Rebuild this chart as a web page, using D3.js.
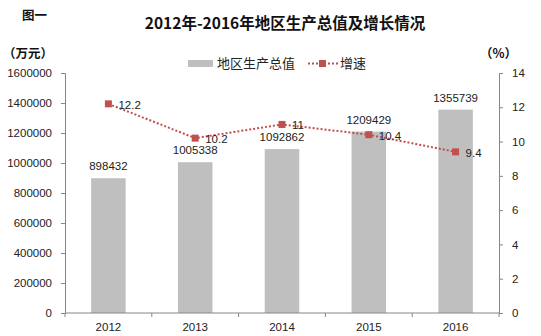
<!DOCTYPE html>
<html><head><meta charset="utf-8">
<script src="https://cdn.jsdelivr.net/npm/d3@7"></script>
<style>
body{margin:0;background:#fff;}
text{font-family:"Liberation Sans",Arial,"Noto Sans CJK SC",sans-serif;}
.cjk{font-family:"Noto Sans CJK SC",sans-serif;}
</style></head>
<body><svg id="c" width="541" height="336"></svg>
<script>
const years = ["2012","2013","2014","2015","2016"];
const gdp = [898432, 1005338, 1092862, 1209429, 1355739];
const growth = [12.2, 10.2, 11, 10.4, 9.4];
const leftTicks = [0,200000,400000,600000,800000,1000000,1200000,1400000,1600000];
const rightTicks = [0,2,4,6,8,10,12,14];
const title = "2012年-2016年地区生产总值及增长情况";
const seriesNames = ["地区生产总值","增速"];

const svg = d3.select("#c");
const L=65, R=499, T=73, B=313;
const x = d3.scaleBand().domain(years).range([L,R]).paddingInner(0.6).paddingOuter(0.3);
const xb = d3.scaleBand().domain(years).range([L,R]);
const yL = d3.scaleLinear().domain([0,1600000]).range([B,T]);
const yR = d3.scaleLinear().domain([0,14]).range([B,T]);
const axisCol="#868686", txtCol="#222";

// bars
svg.selectAll("rect.bar").data(gdp).enter().append("rect")
  .attr("x",(d,i)=>xb(years[i])+xb.bandwidth()/2-17.25).attr("width",34.5)
  .attr("y",d=>yL(d)).attr("height",d=>B-yL(d)).attr("fill","#BFBFBF");

// axes
function styleAxis(g){g.selectAll("path,line").attr("stroke",axisCol);g.selectAll("text").attr("fill",txtCol).style("font-size","11.5px");}
svg.append("g").attr("transform",`translate(${L},0)`)
  .call(d3.axisLeft(yL).tickValues(leftTicks).tickFormat(d3.format("d")).tickSizeOuter(4).tickSize(4).tickPadding(9))
  .call(styleAxis);
svg.append("g").attr("transform",`translate(${R},0)`)
  .call(d3.axisRight(yR).tickValues(rightTicks).tickFormat(d3.format("d")).tickSize(4).tickSizeOuter(4).tickPadding(9))
  .call(styleAxis);
const xa = svg.append("g").attr("transform",`translate(0,${B})`)
  .call(d3.axisBottom(xb).tickSize(0).tickPadding(10));
xa.select("path").attr("d",`M${L},0H${R}`);
styleAxis(xa);
// category boundary ticks
svg.append("g").selectAll("line").data(years.concat(["end"])).enter().append("line")
  .attr("x1",(d,i)=>L+i*xb.bandwidth()).attr("x2",(d,i)=>L+i*xb.bandwidth())
  .attr("y1",B).attr("y2",B+4).attr("stroke",axisCol);

// bar labels
svg.selectAll("text.bl").data(gdp).enter().append("text")
  .attr("x",(d,i)=>xb(years[i])+xb.bandwidth()/2).attr("y",d=>yL(d)-8)
  .attr("text-anchor","middle").attr("fill",txtCol).style("font-size","11.5px").text(d=>d);

// line
const cx = i=>xb(years[i])+xb.bandwidth()/2;
const line = d3.line().x((d,i)=>cx(i)).y(d=>yR(d));
svg.append("path").datum(growth).attr("d",line).attr("fill","none")
  .attr("stroke","#C0504D").attr("stroke-width",2).attr("stroke-dasharray","2,2");
svg.selectAll("rect.mk").data(growth).enter().append("rect")
  .attr("x",(d,i)=>cx(i)-3.5).attr("y",d=>yR(d)-3.5).attr("width",7).attr("height",7).attr("fill","#C0504D");
svg.selectAll("text.gl").data(growth).enter().append("text")
  .attr("x",(d,i)=>cx(i)+10).attr("y",d=>yR(d)+5)
  .attr("fill",txtCol).style("font-size","11.5px").text(d=>d);

// title etc
svg.append("text").attr("class","cjk").attr("x",285).attr("y",29).attr("text-anchor","middle")
  .attr("font-weight","bold").style("font-size","15.5px").attr("fill","#111").text(title);
svg.append("text").attr("class","cjk").attr("x",22).attr("y",20).attr("font-weight","bold")
  .style("font-size","12.5px").attr("fill","#111").text("图一");
svg.append("text").attr("class","cjk").attr("x",3).attr("y",58).attr("font-weight","bold")
  .style("font-size","12.5px").attr("fill","#111").text("（万元）");
svg.append("text").attr("class","cjk").attr("x",480).attr("y",58).attr("font-weight","bold")
  .style("font-size","12.5px").attr("fill","#111").text("（%）");

// legend
svg.append("rect").attr("x",188).attr("y",60).attr("width",25).attr("height",7).attr("fill","#BFBFBF");
svg.append("text").attr("class","cjk").attr("x",217).attr("y",68).style("font-size","13px").attr("fill",txtCol).text(seriesNames[0]);
svg.append("line").attr("x1",308).attr("x2",338).attr("y1",63.5).attr("y2",63.5)
  .attr("stroke","#C0504D").attr("stroke-width",2).attr("stroke-dasharray","2,2");
svg.append("rect").attr("x",319).attr("y",60).attr("width",7).attr("height",7).attr("fill","#C0504D");
svg.append("text").attr("class","cjk").attr("x",340).attr("y",68).style("font-size","13px").attr("fill",txtCol).text(seriesNames[1]);
</script></body></html>
